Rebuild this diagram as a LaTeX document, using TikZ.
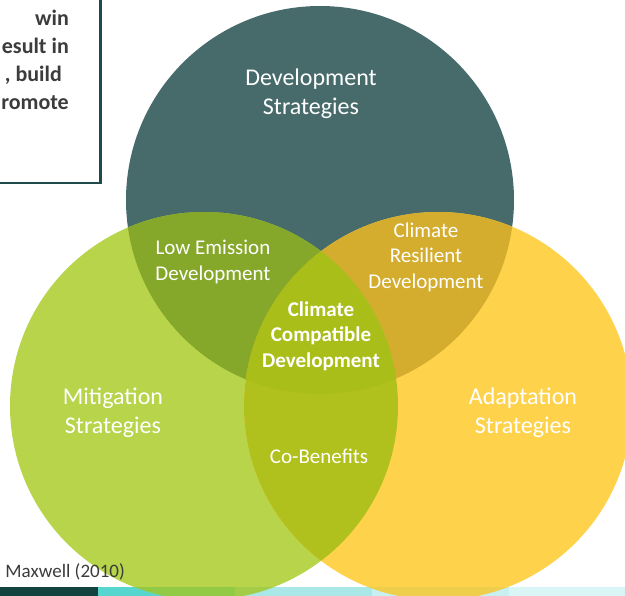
\documentclass[tikz,border=0pt]{standalone}
\usepackage{fontspec}
\setmainfont{Carlito}
\definecolor{devcol}{HTML}{466B6A}
\definecolor{mitcol}{HTML}{B7D44A}
\definecolor{adacol}{HTML}{FFD24C}
\definecolor{lowcol}{HTML}{85A72A}
\definecolor{rescol}{HTML}{D4AC2E}
\definecolor{cobcol}{HTML}{B0C01C}
\definecolor{ccdcol}{HTML}{AABE19}
\definecolor{boxcol}{HTML}{1E4A4A}
\definecolor{txtcol}{HTML}{3C3C3C}
\definecolor{stripa}{HTML}{13433F}
\definecolor{stripb}{HTML}{57D5CF}
\definecolor{stripc}{HTML}{A9E8E6}
\definecolor{stripd}{HTML}{C8F0F0}
\definecolor{stripe}{HTML}{DAF5F5}
\tikzset{
	biglabel/.style={text=white,align=center,inner sep=0pt,font=\fontsize{24}{29}\selectfont},
	smalllabel/.style={text=white,align=center,inner sep=0pt,font=\fontsize{21}{25.5}\selectfont},
	boxtext/.style={text=txtcol,anchor=base east,inner sep=0pt,font=\fontsize{22}{28}\selectfont\bfseries}
}

\begin{document}
\begin{tikzpicture}[x=1pt,y=-1pt]
			\useasboundingbox (0,0) rectangle (625,596);
			\clip (0,0) rectangle (625,596);
			\coordinate (cdev) at (320,200);
			\coordinate (cmit) at (204,406);
			\coordinate (cada) at (438,406);
			% bottom strip
			\fill[stripa] (0,587) rectangle (98,596);
			\fill[stripb] (98,587) rectangle (235,596);
			\fill[stripc] (235,587) rectangle (372,596);
			\fill[stripd] (372,587) rectangle (509,596);
			\fill[stripe] (509,587) rectangle (625,596);
			% circles
			\fill[devcol] (cdev) circle (194pt);
			\fill[mitcol] (cmit) circle (194pt);
			\fill[adacol] (cada) circle (194pt);
			\begin{scope}
				\clip (cdev) circle (194pt);
				\fill[lowcol] (cmit) circle (194pt);
				\fill[rescol] (cada) circle (194pt);
			\end{scope}
			\begin{scope}
				\clip (cmit) circle (194pt);
				\fill[cobcol] (cada) circle (194pt);
				\clip (cdev) circle (194pt);
				\fill[ccdcol] (cada) circle (194pt);
			\end{scope}
			% strip seen through the circles
			\begin{scope}[blend mode=multiply,opacity=0.3]
				\clip (cdev) circle (194pt) (cmit) circle (194pt) (cada) circle (194pt);
				\fill[stripa] (0,587) rectangle (98,596);
				\fill[stripb] (98,587) rectangle (235,596);
				\fill[stripc] (235,587) rectangle (372,596);
				\fill[stripd] (372,587) rectangle (509,596);
				\fill[stripe] (509,587) rectangle (625,596);
			\end{scope}
			% labels
			\node[biglabel] (dev)at(311,94) {Development\\Strategies};
			\node[biglabel] (mit)at(113,413) {Mitigation\\Strategies};
			\node[biglabel] (ada)at(523,413) {Adaptation\\Strategies};
			\node[smalllabel] (low)at(213,262) {Low Emission\\Development};
			\node[smalllabel] (res)at(426,257) {Climate\\Resilient\\Development};
			\node[smalllabel,font=\fontsize{21}{25.5}\selectfont\bfseries] (ccd)at(321,336) {Climate\\Compatible\\Development};
			\node[smalllabel] (cob)at(319,456) {Co-Benefits};
			% text box
			\draw[boxcol,line width=2.5pt,fill=white] (-10,-10) rectangle (100.5,183);
			\node[boxtext] (l1)at(69,26) {win};
			\node[boxtext] (l2)at(69,54) {esult in};
			\node[boxtext] (l3)at(62,82) {, build};
			\node[boxtext] (l4)at(69,110) {romote};
			% source
			\node[text=txtcol,anchor=base east,inner sep=0pt,font=\fontsize{19}{23}\selectfont] (src)at(125,578) {Maxwell (2010)};
		\end{tikzpicture}
\end{document}
